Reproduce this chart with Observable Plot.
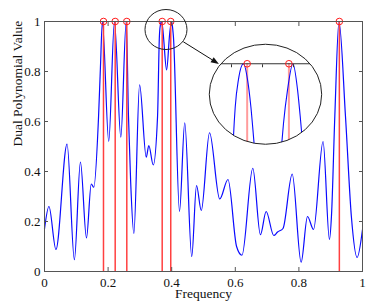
<!DOCTYPE html>
<html>
<head>
<meta charset="utf-8">
<script src="https://cdn.jsdelivr.net/npm/d3@7"></script>
<script src="https://cdn.jsdelivr.net/npm/@observablehq/plot@0.6"></script>
<style>
  html, body { margin: 0; padding: 0; background: #fff; }
  #chart { width: 374px; height: 308px; }
  #chart svg text { font-family: "Liberation Serif", "DejaVu Serif", serif !important; }
</style>
</head>
<body>
<div id="chart"></div>
<script>
// ---- data ----
const freq = [0.000, 0.014, 0.036, 0.071, 0.094, 0.113, 0.132, 0.147, 0.155, 0.170, 0.176, 0.182,
  0.202, 0.220, 0.240, 0.257, 0.264, 0.271, 0.281, 0.299, 0.320, 0.328, 0.342, 0.3555,
  0.3613, 0.3624, 0.3645, 0.3677, 0.3703, 0.3725, 0.3746, 0.384, 0.3925, 0.3935, 0.3961,
  0.3996, 0.4026, 0.4043, 0.4054, 0.4245, 0.441, 0.463, 0.478, 0.493, 0.519, 0.551, 0.577,
  0.604, 0.621, 0.655, 0.679, 0.697, 0.721, 0.733, 0.750, 0.779, 0.807, 0.827, 0.846,
  0.876, 0.896, 0.9025, 0.913, 0.926, 0.9465, 0.965, 0.983, 1.000];
const dualValue = [0.170, 0.260, 0.088, 0.510, 0.047, 0.438, 0.134, 0.350, 0.337, 0.620, 0.820, 1.000,
  0.520, 1.000, 0.537, 1.000, 0.624, 0.357, 0.152, 0.747, 0.457, 0.504, 0.426, 0.620,
  0.940, 0.964, 0.987, 1.000, 0.987, 0.964, 0.933, 0.806, 0.935, 0.950, 0.978,
  1.000, 0.978, 0.956, 0.940, 0.240, 0.595, 0.060, 0.344, 0.244, 0.555, 0.290, 0.368,
  0.100, 0.065, 0.413, 0.147, 0.240, 0.144, 0.158, 0.172, 0.390, 0.037, 0.220, 0.168,
  0.520, 0.128, 0.224, 0.624, 1.000, 0.620, 0.220, 0.056, 0.168];
const supportFreq = [0.1855, 0.2223, 0.2588, 0.3701, 0.3970, 0.9272];
const supportValue = [1, 1, 1, 1, 1, 1];

const xTicks = [0, 0.2, 0.4, 0.6, 0.8, 1];
const xTickLabels = ["0", "0.2", "0.4", "0.6", "0.8", "1"];
const yTicks = [0, 0.2, 0.4, 0.6, 0.8, 1];
const yTickLabels = ["0", "0.2", "0.4", "0.6", "0.8", "1"];
const xLabel = "Frequency";
const yLabel = "Dual Polynomial Value";

// zoomed inset (magnified view around the 4th and 5th support points)
const insetXDomain = [0.3460, 0.4182];
const insetYDomain = [0.9325, 1];
const insetTicks = [0.36, 0.38, 0.40];

// annotation anchors (data coordinates)
const smallEllipse = {x: 0.3836, y: 0.966, rx: 21, ry: 20};
const bigEllipse = {x: 0.6965, y: 0.707, rx: 56.2, ry: 50};
const arrowFrom = {x: 0.438, y: 0.917};
const arrowTo = {x: 0.550, y: 0.828};

// ---- build tables ----
const curve = freq.map((f, i) => ({f, v: dualValue[i]}));
const supports = supportFreq.map((f, i) => ({f, v: supportValue[i]}));

const serif = "'Liberation Serif', 'DejaVu Serif', serif";
const blue = "#0a0aff";

const main = Plot.plot({
  width: 374,
  height: 308,
  marginLeft: 44,
  marginRight: 12,
  marginTop: 21,
  marginBottom: 37,
  style: {fontFamily: serif, fontSize: "13px", background: "#fff", color: "#111"},
  x: {domain: [0, 1]},
  y: {domain: [0, 1]},
  marks: [
    Plot.line(curve, {x: "f", y: "v", stroke: blue, strokeWidth: 1.2, curve: "monotone-x"}),
    Plot.ruleX(supports, {x: "f", y1: 0, y2: "v", stroke: "#ff4040", strokeWidth: 1.5}),
    Plot.dot(supports, {x: "f", y: "v", r: 3.3, stroke: "#ff1a1a", strokeWidth: 1}),
    Plot.frame({stroke: "#555"}),
    Plot.axisX(xTicks, {anchor: "bottom", tickSize: 0, tickPadding: 6, tickFormat: d => xTickLabels[xTicks.indexOf(d)], label: null, fontSize: 13}),
    Plot.axisX(xTicks, {anchor: "bottom", tickSize: -4, tickFormat: () => "", label: null, stroke: "#555"}),
    Plot.axisX(xTicks, {anchor: "top", tickSize: -4, tickFormat: () => "", label: null, stroke: "#555"}),
    Plot.axisY(yTicks, {anchor: "left", tickSize: 0, tickPadding: 4, tickFormat: d => yTickLabels[yTicks.indexOf(d)], label: null, fontSize: 13}),
    Plot.axisY(yTicks, {anchor: "left", tickSize: -4, tickFormat: () => "", label: null, stroke: "#555"}),
    Plot.axisY(yTicks, {anchor: "right", tickSize: -4, tickFormat: () => "", label: null, stroke: "#555"}),
    Plot.text([xLabel], {text: d => d, frameAnchor: "bottom", dy: 17, lineAnchor: "top", fontSize: 13.5, fill: "#111"}),
    Plot.text([yLabel], {text: d => d, frameAnchor: "left", dx: -27, rotate: -90, fontSize: 13.5, fill: "#111"})
  ]
});

const inset = Plot.plot({
  width: 112,
  height: 100,
  marginTop: 19,
  marginBottom: 0,
  marginLeft: 0,
  marginRight: 0,
  style: {background: "transparent"},
  x: {domain: insetXDomain},
  y: {domain: insetYDomain},
  marks: [
    Plot.ruleX(supports, {x: "f", y1: insetYDomain[0] - 0.1, y2: "v", stroke: "#ff9c9c", strokeWidth: 2}),
    Plot.line(curve, {x: "f", y: "v", stroke: blue, strokeWidth: 1.1, curve: "monotone-x"}),
    Plot.ruleY([1], {stroke: "#333", strokeWidth: 1}),
    Plot.axisX(insetTicks, {anchor: "top", tickSize: -3, tickFormat: () => "", label: null, stroke: "#333"}),
    Plot.dot(supports, {x: "f", y: "v", r: 3.3, stroke: "#ff1a1a", strokeWidth: 1})
  ]
});

// ---- annotations placed through the main scales ----
const sx = main.scale("x"), sy = main.scale("y");
const svg = d3.select(main);
main.style.fontFamily = serif;
svg.attr("font-family", serif);

const cx = sx.apply(bigEllipse.x), cy = sy.apply(bigEllipse.y);
svg.append("defs").append("clipPath").attr("id", "insetClip")
  .append("ellipse").attr("cx", cx).attr("cy", cy).attr("rx", bigEllipse.rx).attr("ry", bigEllipse.ry);
const g = svg.append("g").attr("clip-path", "url(#insetClip)");
g.append("ellipse").attr("cx", cx).attr("cy", cy).attr("rx", bigEllipse.rx).attr("ry", bigEllipse.ry).attr("fill", "#fff");
inset.setAttribute("x", cx - bigEllipse.rx);
inset.setAttribute("y", cy - bigEllipse.ry);
inset.style.width = "112px";
inset.style.height = "100px";
inset.style.maxWidth = "none";
g.node().appendChild(inset);

svg.append("ellipse").attr("cx", cx).attr("cy", cy).attr("rx", bigEllipse.rx).attr("ry", bigEllipse.ry)
  .attr("fill", "none").attr("stroke", "#222").attr("stroke-width", 1);
svg.append("ellipse").attr("cx", sx.apply(smallEllipse.x)).attr("cy", sy.apply(smallEllipse.y))
  .attr("rx", smallEllipse.rx).attr("ry", smallEllipse.ry)
  .attr("fill", "none").attr("stroke", "#222").attr("stroke-width", 1);

// arrow with filled head
const ax1 = sx.apply(arrowFrom.x), ay1 = sy.apply(arrowFrom.y);
const ax2 = sx.apply(arrowTo.x), ay2 = sy.apply(arrowTo.y);
const len = Math.hypot(ax2 - ax1, ay2 - ay1);
const ux = (ax2 - ax1) / len, uy = (ay2 - ay1) / len;
const hl = 8, hw = 3;
const bx = ax2 - ux * hl, by = ay2 - uy * hl;
svg.append("line").attr("x1", ax1).attr("y1", ay1).attr("x2", bx).attr("y2", by)
  .attr("stroke", "#111").attr("stroke-width", 1);
svg.append("path")
  .attr("d", `M${ax2},${ay2}L${bx - uy * hw},${by + ux * hw}L${bx + uy * hw},${by - ux * hw}Z`)
  .attr("fill", "#111");

document.getElementById("chart").appendChild(main);
</script>
</body>
</html>
